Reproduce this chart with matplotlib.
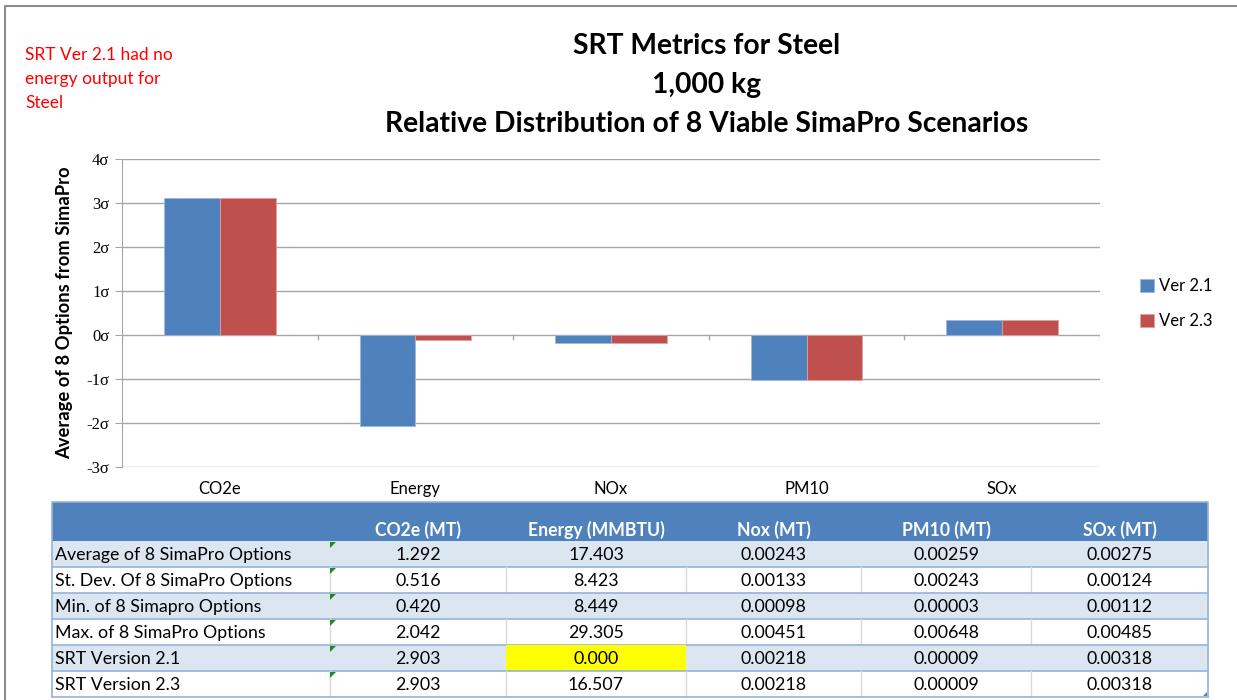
import matplotlib
matplotlib.use("Agg")
import matplotlib.pyplot as plt
from matplotlib.patches import Rectangle, Polygon
import numpy as np

# chart data
categories = ["CO2e", "Energy", "NOx", "PM10", "SOx"]
ver21 = [3.12, -2.07, -0.19, -1.03, 0.35]
ver23 = [3.12, -0.11, -0.19, -1.03, 0.35]
ytick_vals = [-3, -2, -1, 0, 1, 2, 3, 4]

# table data
col_headers = ["", "CO2e (MT)", "Energy (MMBTU)", "Nox (MT)", "PM10 (MT)", "SOx (MT)"]
row_labels = [
    "Average of 8 SimaPro Options",
    "St. Dev. Of 8 SimaPro Options",
    "Min. of 8 Simapro Options",
    "Max. of 8 SimaPro Options",
    "SRT Version 2.1",
    "SRT Version 2.3",
]
co2e = ["1.292", "0.516", "0.420", "2.042", "2.903", "2.903"]
energy = ["17.403", "8.423", "8.449", "29.305", "0.000", "16.507"]
nox = ["0.00243", "0.00133", "0.00098", "0.00451", "0.00218", "0.00218"]
pm10 = ["0.00259", "0.00243", "0.00003", "0.00648", "0.00009", "0.00009"]
sox = ["0.00275", "0.00124", "0.00112", "0.00485", "0.00318", "0.00318"]

BLUE = "#4F81BD"
RED = "#C0504D"
FONT = "Lato"

W, H = 1237, 700
fig = plt.figure(figsize=(W / 100, H / 100), dpi=100)

# overlay axes in pixel coordinates for frame, titles and table
ov = fig.add_axes([0, 0, 1, 1])
ov.set_xlim(0, W)
ov.set_ylim(H, 0)
ov.axis("off")
ov.plot([5, 5, W], [H, 6, 6], color="#8c8c8c", lw=1.5)

for ty, t in zip([46, 85, 124], ["SRT Metrics for Steel", "1,000 kg",
                                  "Relative Distribution of 8 Viable SimaPro Scenarios"]):
    ov.text(707, ty, t, ha="center", va="center", fontsize=20.3, fontweight="bold",
            family=FONT)
ov.text(25, 79, "SRT Ver 2.1 had no\nenergy output for\nSteel", ha="left", va="center",
        fontsize=12.5, color="#FF0000", family=FONT, linespacing=1.6)

# bar chart
ax = fig.add_axes([122 / W, 1 - 467 / H, (1100 - 122) / W, (467 - 159) / H])
x = np.arange(len(categories))
bw = 0.285
ax.bar(x - bw / 2, ver21, width=bw, color=BLUE, edgecolor="#9db8dc", lw=0.6,
       label="Ver 2.1", zorder=3)
ax.bar(x + bw / 2, ver23, width=bw, color=RED, edgecolor="#dba3a1", lw=0.6,
       label="Ver 2.3", zorder=3)
ax.set_xlim(-0.5, len(categories) - 0.5)
ax.set_ylim(-3, 4)
ax.set_yticks(ytick_vals)
ax.set_yticklabels([f"{v}\u03c3" for v in ytick_vals], family="Liberation Serif",
                   fontsize=12)
ax.yaxis.grid(True, color="#a6a6a6", lw=1.0, zorder=0)
ax.set_xticks([])
for b in np.arange(-0.5, len(categories) + 0.5, 1.0):
    ax.plot([b, b], [0, -0.08], color="#a6a6a6", lw=1.0, zorder=2)
for i, c in enumerate(categories):
    ax.text(i, -3.5, c, ha="center", va="center", fontsize=12, family=FONT)
for s in ["top", "right", "bottom"]:
    ax.spines[s].set_visible(False)
ax.spines["left"].set_color("#a6a6a6")
ax.tick_params(axis="y", length=5, color="#a6a6a6", pad=4)
ax.set_ylabel("Average of 8 Options from SimaPro", fontsize=13.2, fontweight="bold",
              family=FONT, labelpad=10)
ax.legend(loc="center left", bbox_to_anchor=(1.026, 0.53), frameon=False,
          prop={"family": FONT, "size": 12}, handlelength=0.8, handleheight=0.8,
          handletextpad=0.3, labelspacing=1.15)

# table
col_x = [52, 330, 506, 686, 861, 1031, 1208]
head_top, head_bot = 502, 541
row_h = 26
ov.add_patch(Rectangle((col_x[0], head_top), col_x[-1] - col_x[0], head_bot - head_top,
                       facecolor=BLUE, edgecolor="none"))
for j, h in enumerate(col_headers):
    if h:
        ov.text((col_x[j] + col_x[j + 1]) / 2, 530, h, ha="center", va="center",
                color="white", fontsize=12.7, fontweight="bold", family=FONT)

columns = [row_labels, co2e, energy, nox, pm10, sox]
for i in range(len(row_labels)):
    top = head_bot + i * row_h
    shade = "#DCE6F1" if i % 2 == 0 else "white"
    ov.add_patch(Rectangle((col_x[0], top), col_x[-1] - col_x[0], row_h,
                           facecolor=shade, edgecolor="none"))
    if i % 2 == 1:
        for cx in col_x[1:-1]:
            ov.plot([cx, cx], [top, top + row_h], color="#d9d9d9", lw=1)
    for j, col in enumerate(columns):
        if row_labels[i] == "SRT Version 2.1" and j == 2:
            ov.add_patch(Rectangle((col_x[j], top), col_x[j + 1] - col_x[j], row_h,
                                   facecolor="#FFFF00", edgecolor="none", zorder=2))
        if j == 0:
            ov.text(col_x[0] + 3, top + row_h / 2 + 1, col[i], ha="left", va="center",
                    fontsize=12.8, family=FONT, zorder=3)
        else:
            ov.text((col_x[j] + col_x[j + 1]) / 2, top + row_h / 2 + 1, col[i],
                    ha="center", va="center", fontsize=12.8, family=FONT, zorder=3)
    # excel's little green "number stored as text" marker
    ov.add_patch(Polygon([[col_x[1], top + 1], [col_x[1] + 6, top + 1], [col_x[1], top + 7]],
                         closed=True, facecolor="#1f8a1f", edgecolor="none", zorder=4))
    ov.plot([col_x[0], col_x[-1]], [top + row_h, top + row_h], color="#95B3D7", lw=1.2)

tb_bot = head_bot + len(row_labels) * row_h
ov.plot([col_x[0], col_x[0], col_x[-1], col_x[-1]], [tb_bot, head_top, head_top, tb_bot],
        color="#95B3D7", lw=1.2)
ov.add_patch(Polygon([[col_x[-1] - 5, tb_bot - 1], [col_x[-1] - 1, tb_bot - 1],
                      [col_x[-1] - 1, tb_bot - 5]], closed=True,
                     facecolor="#4F81BD", edgecolor="none", zorder=4))

fig.savefig("out.png", dpi=100)
